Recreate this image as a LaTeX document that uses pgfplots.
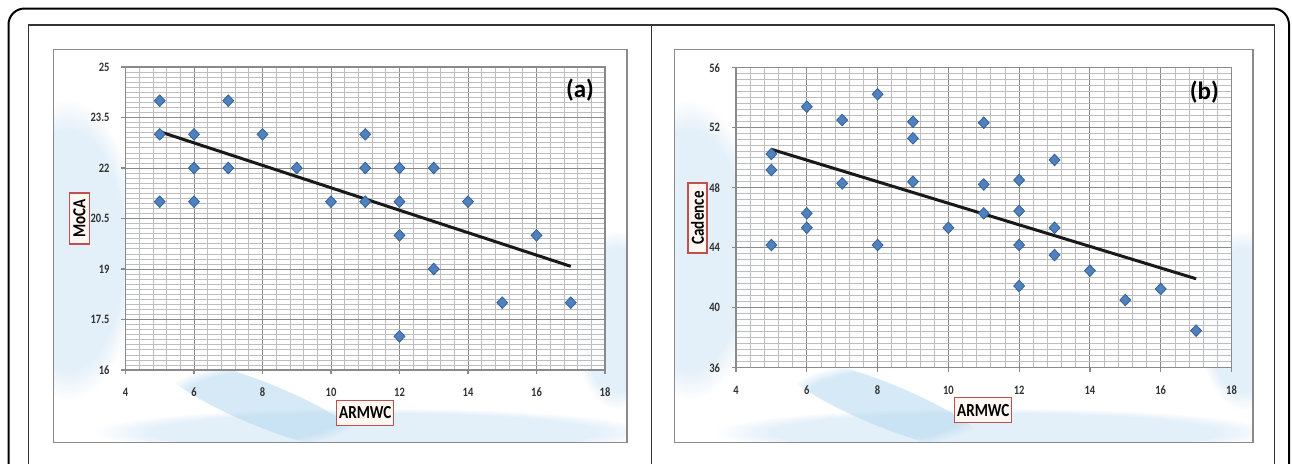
\documentclass[border=0pt]{standalone}
\usepackage{fontspec}
\setmainfont{Carlito}
\newfontfamily\cf[FakeStretch=0.82]{Carlito}
\usepackage{pgfplots}
\pgfplotsset{compat=1.18}
\usetikzlibrary{fadings}

\definecolor{mk}{HTML}{4F81BD}
\definecolor{mkd}{HTML}{36609A}
\definecolor{majg}{HTML}{8A8A8A}
\definecolor{ming}{HTML}{BEBEBE}
\definecolor{boxr}{HTML}{C0504D}
\definecolor{boxf}{HTML}{FFF8F2}
\definecolor{wash}{HTML}{E2EFF9}
\definecolor{swirl}{HTML}{B4D8F1}

\pgfplotsset{
  scat/.style={
    scale only axis, anchor=south west, clip=false,
    xmin=4, xmax=18, xtick={4,6,...,18}, minor x tick num=4,
    grid=both,
    major grid style={majg, line width=0.5pt},
    minor grid style={ming, line width=0.35pt},
    axis line style={majg, line width=0.6pt},
    tick style={majg, line width=0.6pt},
    tick align=outside, major tick length=2pt, minor tick length=0pt,
    xtick pos=bottom, ytick pos=left,
    /pgf/number format/assume math mode=true,
    ticklabel style={font=\cf\bfseries\fontsize{6.4}{7}\selectfont, text=black!80},
    yticklabel style={xshift=-2.5pt},
    xticklabel style={yshift=-3.5pt},
    axis background/.style={fill=white, fill opacity=0.85},
  },
  dots/.style={only marks, mark=diamond*, mark size=2.9pt,
    mark options={xscale=1.25, fill=mk, draw=mkd, line width=0.4pt}},
  trend/.style={no marks, line width=1.5pt, color=black!90},
}

\tikzset{
  lbl/.style={draw=boxr, fill=boxf, line width=0.6pt, inner sep=0pt,
    font=\cf\bfseries\fontsize{9.2}{10}\selectfont},
}

\begin{document}
\begin{tikzpicture}
\useasboundingbox (0,0) rectangle (646pt,-231.5pt);
\clip (0,0) rectangle (646pt,-231.5pt);

\begin{scope}[x=0.5pt, y=-0.5pt]
  \fill[white] (0,0) rectangle (1292,463);
  % frames
  \draw[black, line width=1pt, rounded corners=8pt] (8.5,8.5) rectangle (1289,540);
  \draw[black!80, line width=0.6pt] (28.6,25) rectangle (1274.5,540);
  \draw[black!80, line width=0.6pt] (651.5,25) -- (651.5,540);
  % chart areas with a light blue wash
  \foreach \xa/\xb in {53.5/627, 674.6/1252.8} {
    \begin{scope}
      \clip (\xa,49.5) rectangle (\xb,442.5);
      \fill[white] (\xa,49.5) rectangle (\xb,442.5);
      \fill[wash, opacity=0.9, path fading=circle with fuzzy edge 20 percent]
        (\xa+15,250) ellipse (70 and 150);
      \fill[wash, opacity=0.9, path fading=circle with fuzzy edge 20 percent]
        (\xb-10,320) ellipse (45 and 90);
      \fill[wash, opacity=0.9, path fading=circle with fuzzy edge 20 percent]
        (\xa+320,432) ellipse (280 and 24);
      \fill[swirl, opacity=0.55, path fading=circle with fuzzy edge 20 percent,
        rotate around={-22:(\xa+210,405)}]
        (\xa+210,405) ellipse (110 and 22);
    \end{scope}
    \draw[majg, line width=0.8pt] (\xa,49.5) rectangle (\xb,442.5);
  }
\end{scope}

% (a) MoCA vs ARMWC
\begin{axis}[scat, at={(62.75pt,-185pt)}, width=239.75pt, height=151.5pt,
  ymin=16, ymax=25, ytick={16,17.5,19,20.5,22,23.5,25}, minor y tick num=9]
\addplot[dots] coordinates {
  (5,24) (5,23) (5,21) (6,23) (6,22) (6,21) (7,24) (7,22) (8,23) (9,22)
  (10,21) (11,23) (11,22) (11,21) (12,22) (12,21) (12,20) (12,17)
  (13,22) (13,19) (14,21) (15,18) (16,20) (17,18)
};
\addplot[trend] coordinates {(5,23.08) (17,19.08)};
\end{axis}

% (b) Cadence vs ARMWC
\begin{axis}[scat, at={(368pt,-183.85pt)}, width=247.75pt, height=150pt,
  ymin=36, ymax=56, ytick={36,40,44,48,52,56}, minor y tick num=9]
\addplot[dots] coordinates {
  (5,50.25) (5,49.18) (5,44.18) (6,53.4) (6,46.29) (6,45.33) (7,52.51) (7,48.29)
  (8,54.23) (8,44.18) (9,52.4) (9,51.29) (9,48.4) (10,45.33)
  (11,52.33) (11,48.22) (11,46.29) (12,48.51) (12,46.45) (12,44.18) (12,41.45)
  (13,49.85) (13,45.33) (13,43.51) (14,42.47) (15,40.51) (16,41.25) (17,38.47)
};
\addplot[trend] coordinates {(5,50.56) (17,41.93)};
\end{axis}

\begin{scope}[x=0.5pt, y=-0.5pt]
  \node[lbl, rotate=90, minimum width=25.5pt, minimum height=10pt] at (79.5,218.4) {MoCA};
  \node[lbl, minimum width=28.5pt, minimum height=12.5pt] at (365.3,412.7) {ARMWC};
  \node[lbl, rotate=90, minimum width=35pt, minimum height=9.5pt] at (697.5,217.9) {Cadence};
  \node[lbl, minimum width=28.5pt, minimum height=12.5pt] at (983.3,410.2) {ARMWC};
  \node[font=\bfseries\fontsize{12.5}{13}\selectfont, inner sep=0pt] at (580,90.5) {(a)};
  \node[font=\bfseries\fontsize{12.5}{13}\selectfont, inner sep=0pt] at (1204.3,92) {(b)};
\end{scope}
\end{tikzpicture}
\end{document}
